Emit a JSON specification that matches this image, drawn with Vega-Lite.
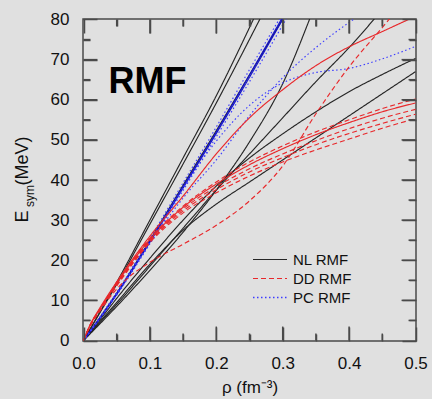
{
  "$schema": "https://vega.github.io/schema/vega-lite/v6.json",
  "width": 333,
  "height": 322,
  "autosize": {"type": "none"},
  "padding": {"left": 83, "top": 19, "right": 16, "bottom": 58},
  "background": "#e0e0e0",
  "config": {
    "view": {"stroke": "#4a4a4a", "strokeWidth": 1.5, "fill": null},
    "scale": {"continuousPadding": 0.5},
    "font": "Liberation Sans",
    "axis": {"domain": false, "grid": false, "ticks": true, "tickColor": "#4a4a4a", "tickWidth": 1.5, "tickOpacity": 1, "labelFont": "Liberation Sans", "titleFont": "Liberation Sans", "zindex": 2}
  },
  "datasets": {
    "curves": [
      {"s":"N1","t":"NL RMF","x":0,"y":0},{"s":"N1","t":"NL RMF","x":0.025,"y":7.2},{"s":"N1","t":"NL RMF","x":0.05,"y":14.5},{"s":"N1","t":"NL RMF","x":0.1,"y":30},{"s":"N1","t":"NL RMF","x":0.15,"y":45.5},{"s":"N1","t":"NL RMF","x":0.2,"y":61},{"s":"N1","t":"NL RMF","x":0.26,"y":81.5},
      {"s":"N2","t":"NL RMF","x":0,"y":0},{"s":"N2","t":"NL RMF","x":0.025,"y":7},{"s":"N2","t":"NL RMF","x":0.05,"y":14},{"s":"N2","t":"NL RMF","x":0.1,"y":29},{"s":"N2","t":"NL RMF","x":0.15,"y":44},{"s":"N2","t":"NL RMF","x":0.2,"y":59.2},{"s":"N2","t":"NL RMF","x":0.27,"y":81.5},
      {"s":"N3","t":"NL RMF","x":0,"y":0},{"s":"N3","t":"NL RMF","x":0.025,"y":5.8},{"s":"N3","t":"NL RMF","x":0.05,"y":11.8},{"s":"N3","t":"NL RMF","x":0.1,"y":25},{"s":"N3","t":"NL RMF","x":0.15,"y":38.7},{"s":"N3","t":"NL RMF","x":0.2,"y":52.3},{"s":"N3","t":"NL RMF","x":0.25,"y":66.2},{"s":"N3","t":"NL RMF","x":0.305,"y":81.5},
      {"s":"N4","t":"NL RMF","x":0,"y":0},{"s":"N4","t":"NL RMF","x":0.025,"y":4.2},{"s":"N4","t":"NL RMF","x":0.05,"y":8.5},{"s":"N4","t":"NL RMF","x":0.1,"y":17.5},{"s":"N4","t":"NL RMF","x":0.15,"y":27},{"s":"N4","t":"NL RMF","x":0.2,"y":37.5},{"s":"N4","t":"NL RMF","x":0.25,"y":49.5},{"s":"N4","t":"NL RMF","x":0.3,"y":64},{"s":"N4","t":"NL RMF","x":0.345,"y":82},
      {"s":"N5","t":"NL RMF","x":0,"y":0},{"s":"N5","t":"NL RMF","x":0.025,"y":4.5},{"s":"N5","t":"NL RMF","x":0.05,"y":9},{"s":"N5","t":"NL RMF","x":0.1,"y":18.5},{"s":"N5","t":"NL RMF","x":0.15,"y":28},{"s":"N5","t":"NL RMF","x":0.2,"y":37.5},{"s":"N5","t":"NL RMF","x":0.25,"y":46.5},{"s":"N5","t":"NL RMF","x":0.3,"y":55.5},{"s":"N5","t":"NL RMF","x":0.35,"y":64.5},{"s":"N5","t":"NL RMF","x":0.4,"y":73},{"s":"N5","t":"NL RMF","x":0.445,"y":81.5},
      {"s":"N6","t":"NL RMF","x":0,"y":0},{"s":"N6","t":"NL RMF","x":0.025,"y":5.2},{"s":"N6","t":"NL RMF","x":0.05,"y":10.5},{"s":"N6","t":"NL RMF","x":0.1,"y":20.5},{"s":"N6","t":"NL RMF","x":0.15,"y":30},{"s":"N6","t":"NL RMF","x":0.2,"y":38.5},{"s":"N6","t":"NL RMF","x":0.25,"y":45.5},{"s":"N6","t":"NL RMF","x":0.3,"y":51.5},{"s":"N6","t":"NL RMF","x":0.35,"y":57},{"s":"N6","t":"NL RMF","x":0.4,"y":62},{"s":"N6","t":"NL RMF","x":0.45,"y":66.3},{"s":"N6","t":"NL RMF","x":0.5,"y":70.3},
      {"s":"N7","t":"NL RMF","x":0,"y":0},{"s":"N7","t":"NL RMF","x":0.025,"y":4.8},{"s":"N7","t":"NL RMF","x":0.05,"y":9.5},{"s":"N7","t":"NL RMF","x":0.1,"y":19},{"s":"N7","t":"NL RMF","x":0.15,"y":27.5},{"s":"N7","t":"NL RMF","x":0.2,"y":34},{"s":"N7","t":"NL RMF","x":0.25,"y":39.5},{"s":"N7","t":"NL RMF","x":0.3,"y":45},{"s":"N7","t":"NL RMF","x":0.35,"y":50.5},{"s":"N7","t":"NL RMF","x":0.4,"y":56},{"s":"N7","t":"NL RMF","x":0.45,"y":61.5},{"s":"N7","t":"NL RMF","x":0.5,"y":67},
      {"s":"P1","t":"PC solid","x":0,"y":0},{"s":"P1","t":"PC solid","x":0.025,"y":5.6},{"s":"P1","t":"PC solid","x":0.05,"y":11.5},{"s":"P1","t":"PC solid","x":0.1,"y":24.5},{"s":"P1","t":"PC solid","x":0.15,"y":38},{"s":"P1","t":"PC solid","x":0.2,"y":51.6},{"s":"P1","t":"PC solid","x":0.25,"y":65.6},{"s":"P1","t":"PC solid","x":0.305,"y":81.5},
      {"s":"P2","t":"PC solid","x":0,"y":0},{"s":"P2","t":"PC solid","x":0.025,"y":5.7},{"s":"P2","t":"PC solid","x":0.05,"y":11.7},{"s":"P2","t":"PC solid","x":0.1,"y":24.8},{"s":"P2","t":"PC solid","x":0.15,"y":38.4},{"s":"P2","t":"PC solid","x":0.2,"y":52},{"s":"P2","t":"PC solid","x":0.25,"y":66.2},{"s":"P2","t":"PC solid","x":0.303,"y":81.5},
      {"s":"Q1","t":"PC RMF","x":0,"y":0},{"s":"Q1","t":"PC RMF","x":0.025,"y":5.9},{"s":"Q1","t":"PC RMF","x":0.05,"y":12},{"s":"Q1","t":"PC RMF","x":0.1,"y":25.4},{"s":"Q1","t":"PC RMF","x":0.15,"y":39.3},{"s":"Q1","t":"PC RMF","x":0.2,"y":53.2},{"s":"Q1","t":"PC RMF","x":0.25,"y":67.5},{"s":"Q1","t":"PC RMF","x":0.3,"y":81.5},
      {"s":"Q2","t":"PC RMF","x":0,"y":0},{"s":"Q2","t":"PC RMF","x":0.025,"y":5.5},{"s":"Q2","t":"PC RMF","x":0.05,"y":11.3},{"s":"Q2","t":"PC RMF","x":0.1,"y":24.1},{"s":"Q2","t":"PC RMF","x":0.15,"y":37.4},{"s":"Q2","t":"PC RMF","x":0.2,"y":50.8},{"s":"Q2","t":"PC RMF","x":0.25,"y":64.5},{"s":"Q2","t":"PC RMF","x":0.31,"y":81.5},
      {"s":"QA","t":"PC RMF","x":0,"y":0},{"s":"QA","t":"PC RMF","x":0.025,"y":5.8},{"s":"QA","t":"PC RMF","x":0.05,"y":11.8},{"s":"QA","t":"PC RMF","x":0.1,"y":24.8},{"s":"QA","t":"PC RMF","x":0.15,"y":38},{"s":"QA","t":"PC RMF","x":0.2,"y":49.7},{"s":"QA","t":"PC RMF","x":0.25,"y":58.6},{"s":"QA","t":"PC RMF","x":0.3,"y":64.2},{"s":"QA","t":"PC RMF","x":0.35,"y":66.8},{"s":"QA","t":"PC RMF","x":0.4,"y":67.8},{"s":"QA","t":"PC RMF","x":0.45,"y":70.2},{"s":"QA","t":"PC RMF","x":0.5,"y":73.3},
      {"s":"QB","t":"PC RMF","x":0,"y":0},{"s":"QB","t":"PC RMF","x":0.025,"y":5.7},{"s":"QB","t":"PC RMF","x":0.05,"y":11.6},{"s":"QB","t":"PC RMF","x":0.1,"y":24.2},{"s":"QB","t":"PC RMF","x":0.15,"y":35.5},{"s":"QB","t":"PC RMF","x":0.2,"y":45},{"s":"QB","t":"PC RMF","x":0.25,"y":56},{"s":"QB","t":"PC RMF","x":0.3,"y":65.5},{"s":"QB","t":"PC RMF","x":0.35,"y":73},{"s":"QB","t":"PC RMF","x":0.415,"y":81},
      {"s":"D1","t":"DD RMF","x":0,"y":0},{"s":"D1","t":"DD RMF","x":0.01,"y":3.9},{"s":"D1","t":"DD RMF","x":0.025,"y":8},{"s":"D1","t":"DD RMF","x":0.05,"y":14.5},{"s":"D1","t":"DD RMF","x":0.1,"y":25.5},{"s":"D1","t":"DD RMF","x":0.15,"y":33.5},{"s":"D1","t":"DD RMF","x":0.2,"y":39.5},{"s":"D1","t":"DD RMF","x":0.25,"y":44.5},{"s":"D1","t":"DD RMF","x":0.3,"y":48.5},{"s":"D1","t":"DD RMF","x":0.35,"y":52},{"s":"D1","t":"DD RMF","x":0.4,"y":55},{"s":"D1","t":"DD RMF","x":0.45,"y":57.8},{"s":"D1","t":"DD RMF","x":0.5,"y":60.2},
      {"s":"D2","t":"DD solid","x":0,"y":0},{"s":"D2","t":"DD solid","x":0.01,"y":3.8},{"s":"D2","t":"DD solid","x":0.025,"y":7.9},{"s":"D2","t":"DD solid","x":0.05,"y":14.2},{"s":"D2","t":"DD solid","x":0.1,"y":25.2},{"s":"D2","t":"DD solid","x":0.15,"y":33.2},{"s":"D2","t":"DD solid","x":0.2,"y":39},{"s":"D2","t":"DD solid","x":0.25,"y":43.8},{"s":"D2","t":"DD solid","x":0.3,"y":47.8},{"s":"D2","t":"DD solid","x":0.35,"y":51.3},{"s":"D2","t":"DD solid","x":0.4,"y":54.3},{"s":"D2","t":"DD solid","x":0.45,"y":57},{"s":"D2","t":"DD solid","x":0.5,"y":59.2},
      {"s":"D3","t":"DD RMF","x":0,"y":0},{"s":"D3","t":"DD RMF","x":0.01,"y":3.8},{"s":"D3","t":"DD RMF","x":0.025,"y":7.8},{"s":"D3","t":"DD RMF","x":0.05,"y":14},{"s":"D3","t":"DD RMF","x":0.1,"y":25},{"s":"D3","t":"DD RMF","x":0.15,"y":32.8},{"s":"D3","t":"DD RMF","x":0.2,"y":38.3},{"s":"D3","t":"DD RMF","x":0.25,"y":42.8},{"s":"D3","t":"DD RMF","x":0.3,"y":46.5},{"s":"D3","t":"DD RMF","x":0.35,"y":49.8},{"s":"D3","t":"DD RMF","x":0.4,"y":52.8},{"s":"D3","t":"DD RMF","x":0.45,"y":55.4},{"s":"D3","t":"DD RMF","x":0.5,"y":57.6},
      {"s":"D4","t":"DD RMF","x":0,"y":0},{"s":"D4","t":"DD RMF","x":0.01,"y":3.7},{"s":"D4","t":"DD RMF","x":0.025,"y":7.7},{"s":"D4","t":"DD RMF","x":0.05,"y":13.8},{"s":"D4","t":"DD RMF","x":0.1,"y":24.7},{"s":"D4","t":"DD RMF","x":0.15,"y":32.3},{"s":"D4","t":"DD RMF","x":0.2,"y":37.6},{"s":"D4","t":"DD RMF","x":0.25,"y":42},{"s":"D4","t":"DD RMF","x":0.3,"y":45.6},{"s":"D4","t":"DD RMF","x":0.35,"y":48.8},{"s":"D4","t":"DD RMF","x":0.4,"y":51.6},{"s":"D4","t":"DD RMF","x":0.45,"y":54.1},{"s":"D4","t":"DD RMF","x":0.5,"y":56.4},
      {"s":"D5","t":"DD RMF","x":0,"y":0},{"s":"D5","t":"DD RMF","x":0.01,"y":3.7},{"s":"D5","t":"DD RMF","x":0.025,"y":7.6},{"s":"D5","t":"DD RMF","x":0.05,"y":13.6},{"s":"D5","t":"DD RMF","x":0.1,"y":24.4},{"s":"D5","t":"DD RMF","x":0.15,"y":31.8},{"s":"D5","t":"DD RMF","x":0.2,"y":36.8},{"s":"D5","t":"DD RMF","x":0.25,"y":41},{"s":"D5","t":"DD RMF","x":0.3,"y":44.5},{"s":"D5","t":"DD RMF","x":0.35,"y":47.5},{"s":"D5","t":"DD RMF","x":0.4,"y":50.2},{"s":"D5","t":"DD RMF","x":0.45,"y":52.9},{"s":"D5","t":"DD RMF","x":0.5,"y":55.3},
      {"s":"D6","t":"DD RMF","x":0,"y":0},{"s":"D6","t":"DD RMF","x":0.01,"y":3.5},{"s":"D6","t":"DD RMF","x":0.025,"y":7.4},{"s":"D6","t":"DD RMF","x":0.05,"y":12.8},{"s":"D6","t":"DD RMF","x":0.065,"y":15.3},{"s":"D6","t":"DD RMF","x":0.1,"y":19.5},{"s":"D6","t":"DD RMF","x":0.15,"y":24},{"s":"D6","t":"DD RMF","x":0.2,"y":28.7},{"s":"D6","t":"DD RMF","x":0.25,"y":34.8},{"s":"D6","t":"DD RMF","x":0.3,"y":43.5},{"s":"D6","t":"DD RMF","x":0.35,"y":56.5},{"s":"D6","t":"DD RMF","x":0.4,"y":68.2},{"s":"D6","t":"DD RMF","x":0.45,"y":78},{"s":"D6","t":"DD RMF","x":0.47,"y":82},
      {"s":"R0","t":"DD solid","x":0,"y":0},{"s":"R0","t":"DD solid","x":0.01,"y":3.9},{"s":"R0","t":"DD solid","x":0.025,"y":8.2},{"s":"R0","t":"DD solid","x":0.05,"y":14.6},{"s":"R0","t":"DD solid","x":0.1,"y":26},{"s":"R0","t":"DD solid","x":0.15,"y":36},{"s":"R0","t":"DD solid","x":0.2,"y":46.5},{"s":"R0","t":"DD solid","x":0.25,"y":55.5},{"s":"R0","t":"DD solid","x":0.3,"y":62.5},{"s":"R0","t":"DD solid","x":0.35,"y":68.5},{"s":"R0","t":"DD solid","x":0.4,"y":73.2},{"s":"R0","t":"DD solid","x":0.45,"y":77},{"s":"R0","t":"DD solid","x":0.5,"y":80.8}
    ],
    "big": [{"txt": "RMF", "x": 0.0375, "y": 61.6, "nl": "NL RMF", "dd": "DD RMF", "pc": "PC RMF"}],
    "sub": [{"txt": "sym", "x": -0.0751, "y": 36}],
    "xM": [{"v":0.1},{"v":0.2},{"v":0.3},{"v":0.4}],
    "xm": [{"v":0.05},{"v":0.15},{"v":0.25},{"v":0.35},{"v":0.45}],
    "yM": [{"v":10},{"v":20},{"v":30},{"v":40},{"v":50},{"v":60},{"v":70}],
    "ym": [{"v":5},{"v":15},{"v":25},{"v":35},{"v":45},{"v":55},{"v":65},{"v":75}]
  },
  "layer": [
    {
      "data": {"name": "curves"},
      "mark": {"type": "line", "interpolate": "monotone", "clip": true},
      "encoding": {
        "x": {"field": "x", "type": "quantitative", "scale": {"domain": [0, 0.5], "nice": false, "zero": false, "padding": 0.5},
              "axis": {"orient": "bottom", "values": [0, 0.1, 0.2, 0.3, 0.4, 0.5], "format": ".1f", "offset": -14, "ticks": true, "tickSize": 14, "tickColor": "#4a4a4a", "tickWidth": 1.5, "tickOpacity": 1, "zindex": 2, "labelPadding": 14, "labelFontSize": 17, "labelColor": "#111", "labelFlush": false,
                       "title": "ρ (fm⁻³)", "titleFontSize": 17, "titleFontWeight": "normal", "titleColor": "#111", "titleX": 166.5, "titleY": 65, "titleBaseline": "alphabetic", "titleAnchor": "middle"}},
        "y": {"field": "y", "type": "quantitative", "scale": {"domain": [0, 80], "nice": false, "padding": 0.5},
              "axis": {"orient": "left", "values": [0, 10, 20, 30, 40, 50, 60, 70, 80], "format": "d", "offset": -14, "ticks": true, "tickSize": 14, "tickColor": "#4a4a4a", "tickWidth": 1.5, "tickOpacity": 1, "zindex": 2, "labelPadding": 14, "labelFontSize": 17, "labelColor": "#111", "labelFlush": false,
                       "title": "E\u00a0\u00a0\u00a0\u00a0\u00a0(MeV)", "titleFontSize": 18, "titleFontWeight": "normal", "titleColor": "#111", "titleX": -70, "titleY": 160, "titleAngle": 270, "titleBaseline": "alphabetic", "titleAlign": "center", "titleAnchor": "middle"}},
        "detail": {"field": "s"},
        "color": {"field": "t", "type": "nominal",
                  "scale": {"domain": ["NL RMF", "DD RMF", "PC RMF", "DD solid", "PC solid"], "range": ["#262626", "#e8282b", "#3c3cff", "#e8282b", "#1414c8"]},
                  "legend": null},
        "strokeDash": {"field": "t", "type": "nominal",
                  "scale": {"domain": ["NL RMF", "DD RMF", "PC RMF", "DD solid", "PC solid"], "range": [[1, 0], [5, 3], [1.5, 2.5], [1, 0], [1, 0]]},
                  "legend": null},
        "strokeWidth": {"field": "t", "type": "nominal",
                  "scale": {"domain": ["NL RMF", "DD RMF", "PC RMF", "DD solid", "PC solid"], "range": [1.15, 1.15, 1.3, 1.15, 2.2]},
                  "legend": null}
      }
    },
    {
      "data": {"name": "big"},
      "mark": {"type": "point", "opacity": 0},
      "encoding": {
        "x": {"field": "x", "type": "quantitative", "scale": {"domain": [0, 0.5], "nice": false, "zero": false, "padding": 0.5},
              "axis": {"orient": "top", "values": [0, 0.1, 0.2, 0.3, 0.4, 0.5], "offset": -14, "ticks": true, "tickSize": 14, "tickColor": "#4a4a4a", "tickWidth": 1.5, "tickOpacity": 1, "zindex": 2, "labels": false, "title": null}},
        "y": {"field": "y", "type": "quantitative", "scale": {"domain": [0, 80], "nice": false, "padding": 0.5},
              "axis": {"orient": "right", "values": [0, 10, 20, 30, 40, 50, 60, 70, 80], "offset": -14, "ticks": true, "tickSize": 14, "tickColor": "#4a4a4a", "tickWidth": 1.5, "tickOpacity": 1, "zindex": 2, "labels": false, "title": null}},
        "fill": {"field": "nl", "type": "nominal", "scale": {"range": ["#262626"]},
                 "legend": {"title": null, "orient": "none", "legendX": 169, "legendY": 233, "padding": 0, "symbolType": "stroke", "symbolSize": 1156, "symbolStrokeWidth": 1.2, "symbolStrokeColor": "#262626", "symbolDash": [1, 0], "symbolOpacity": 1, "labelFontSize": 15, "labelFont": "Liberation Sans", "labelColor": "#111", "labelOffset": 5, "clipHeight": 15}}
      }
    },
    {
      "data": {"name": "big"},
      "mark": {"type": "point", "opacity": 0},
      "encoding": {
        "x": {"field": "x", "type": "quantitative", "scale": {"domain": [0, 0.5], "nice": false, "zero": false, "padding": 0.5},
              "axis": {"orient": "bottom", "values": [0.05, 0.15, 0.25, 0.35, 0.45], "offset": -7, "ticks": true, "tickSize": 7, "tickColor": "#4a4a4a", "tickWidth": 1.5, "tickOpacity": 1, "zindex": 2, "labels": false, "title": null}},
        "y": {"field": "y", "type": "quantitative", "scale": {"domain": [0, 80], "nice": false, "padding": 0.5},
              "axis": {"orient": "left", "values": [5, 15, 25, 35, 45, 55, 65, 75], "offset": -7, "ticks": true, "tickSize": 7, "tickColor": "#4a4a4a", "tickWidth": 1.5, "tickOpacity": 1, "zindex": 2, "labels": false, "title": null}},
        "stroke": {"field": "dd", "type": "nominal", "scale": {"range": ["#e8282b"]},
                 "legend": {"title": null, "orient": "none", "legendX": 169, "legendY": 252, "padding": 0, "symbolType": "stroke", "symbolSize": 1156, "symbolStrokeWidth": 1.2, "symbolDash": [5, 3], "symbolOpacity": 1, "labelFontSize": 15, "labelFont": "Liberation Sans", "labelColor": "#111", "labelOffset": 5, "clipHeight": 15}}
      }
    },
    {
      "data": {"name": "big"},
      "mark": {"type": "point", "opacity": 0},
      "encoding": {
        "x": {"field": "x", "type": "quantitative", "scale": {"domain": [0, 0.5], "nice": false, "zero": false, "padding": 0.5},
              "axis": {"orient": "top", "values": [0.05, 0.15, 0.25, 0.35, 0.45], "offset": -7, "ticks": true, "tickSize": 7, "tickColor": "#4a4a4a", "tickWidth": 1.5, "tickOpacity": 1, "zindex": 2, "labels": false, "title": null}},
        "y": {"field": "y", "type": "quantitative", "scale": {"domain": [0, 80], "nice": false, "padding": 0.5},
              "axis": {"orient": "right", "values": [5, 15, 25, 35, 45, 55, 65, 75], "offset": -7, "ticks": true, "tickSize": 7, "tickColor": "#4a4a4a", "tickWidth": 1.5, "tickOpacity": 1, "zindex": 2, "labels": false, "title": null}},
        "shape": {"field": "pc", "type": "nominal", "scale": {"range": ["stroke"]},
                 "legend": {"title": null, "orient": "none", "legendX": 169, "legendY": 271, "padding": 0, "symbolType": "stroke", "symbolSize": 1156, "symbolStrokeWidth": 1.3, "symbolStrokeColor": "#3c3cff", "symbolDash": [1.5, 2.5], "symbolOpacity": 1, "labelFontSize": 15, "labelFont": "Liberation Sans", "labelColor": "#111", "labelOffset": 5, "clipHeight": 15}}
      }
    },
    {
      "data": {"name": "big"},
      "mark": {"type": "text", "fontSize": 36, "fontWeight": "bold", "font": "Liberation Sans", "align": "left", "baseline": "alphabetic", "color": "#000"},
      "encoding": {
        "x": {"field": "x", "type": "quantitative", "scale": {"domain": [0, 0.5], "nice": false, "zero": false, "padding": 0.5}, "axis": null},
        "y": {"field": "y", "type": "quantitative", "scale": {"domain": [0, 80], "nice": false, "padding": 0.5}, "axis": null},
        "text": {"field": "txt"}
      }
    },
    {
      "data": {"name": "sub"},
      "mark": {"type": "text", "fontSize": 12, "font": "Liberation Sans", "align": "center", "baseline": "alphabetic", "angle": 270, "color": "#111"},
      "encoding": {
        "x": {"field": "x", "type": "quantitative", "scale": {"domain": [0, 0.5], "nice": false, "zero": false, "padding": 0.5}, "axis": null},
        "y": {"field": "y", "type": "quantitative", "scale": {"domain": [0, 80], "nice": false, "padding": 0.5}, "axis": null},
        "text": {"field": "txt"}
      }
    },
    {
      "data": {"name": "xM"},
      "mark": {"type": "bar", "width": 1.5, "color": "#4a4a4a", "opacity": 1},
      "encoding": {
        "x": {"field": "v", "type": "quantitative", "scale": {"domain": [0, 0.5], "nice": false, "zero": false, "padding": 0.5}, "axis": null},
        "y": {"datum": 0, "type": "quantitative", "scale": {"domain": [0, 80], "nice": false, "padding": 0.5}, "axis": null},
        "y2": {"datum": 3.48}
      }
    },
    {
      "data": {"name": "xm"},
      "mark": {"type": "bar", "width": 1.5, "color": "#4a4a4a", "opacity": 1},
      "encoding": {
        "x": {"field": "v", "type": "quantitative", "scale": {"domain": [0, 0.5], "nice": false, "zero": false, "padding": 0.5}, "axis": null},
        "y": {"datum": 0, "type": "quantitative", "scale": {"domain": [0, 80], "nice": false, "padding": 0.5}, "axis": null},
        "y2": {"datum": 1.74}
      }
    },
    {
      "data": {"name": "xM"},
      "mark": {"type": "bar", "width": 1.5, "color": "#4a4a4a", "opacity": 1},
      "encoding": {
        "x": {"field": "v", "type": "quantitative", "scale": {"domain": [0, 0.5], "nice": false, "zero": false, "padding": 0.5}, "axis": null},
        "y": {"datum": 80, "type": "quantitative", "scale": {"domain": [0, 80], "nice": false, "padding": 0.5}, "axis": null},
        "y2": {"datum": 76.52}
      }
    },
    {
      "data": {"name": "xm"},
      "mark": {"type": "bar", "width": 1.5, "color": "#4a4a4a", "opacity": 1},
      "encoding": {
        "x": {"field": "v", "type": "quantitative", "scale": {"domain": [0, 0.5], "nice": false, "zero": false, "padding": 0.5}, "axis": null},
        "y": {"datum": 80, "type": "quantitative", "scale": {"domain": [0, 80], "nice": false, "padding": 0.5}, "axis": null},
        "y2": {"datum": 78.26}
      }
    },
    {
      "data": {"name": "yM"},
      "mark": {"type": "bar", "height": 1.5, "color": "#4a4a4a", "opacity": 1},
      "encoding": {
        "y": {"field": "v", "type": "quantitative", "scale": {"domain": [0, 80], "nice": false, "padding": 0.5}, "axis": null},
        "x": {"datum": 0, "type": "quantitative", "scale": {"domain": [0, 0.5], "nice": false, "zero": false, "padding": 0.5}, "axis": null},
        "x2": {"datum": 0.021}
      }
    },
    {
      "data": {"name": "ym"},
      "mark": {"type": "bar", "height": 1.5, "color": "#4a4a4a", "opacity": 1},
      "encoding": {
        "y": {"field": "v", "type": "quantitative", "scale": {"domain": [0, 80], "nice": false, "padding": 0.5}, "axis": null},
        "x": {"datum": 0, "type": "quantitative", "scale": {"domain": [0, 0.5], "nice": false, "zero": false, "padding": 0.5}, "axis": null},
        "x2": {"datum": 0.0105}
      }
    },
    {
      "data": {"name": "yM"},
      "mark": {"type": "bar", "height": 1.5, "color": "#4a4a4a", "opacity": 1},
      "encoding": {
        "y": {"field": "v", "type": "quantitative", "scale": {"domain": [0, 80], "nice": false, "padding": 0.5}, "axis": null},
        "x": {"datum": 0.5, "type": "quantitative", "scale": {"domain": [0, 0.5], "nice": false, "zero": false, "padding": 0.5}, "axis": null},
        "x2": {"datum": 0.479}
      }
    },
    {
      "data": {"name": "ym"},
      "mark": {"type": "bar", "height": 1.5, "color": "#4a4a4a", "opacity": 1},
      "encoding": {
        "y": {"field": "v", "type": "quantitative", "scale": {"domain": [0, 80], "nice": false, "padding": 0.5}, "axis": null},
        "x": {"datum": 0.5, "type": "quantitative", "scale": {"domain": [0, 0.5], "nice": false, "zero": false, "padding": 0.5}, "axis": null},
        "x2": {"datum": 0.4895}
      }
    }
  ],
  "resolve": {"axis": {"x": "independent", "y": "independent"}}
}
